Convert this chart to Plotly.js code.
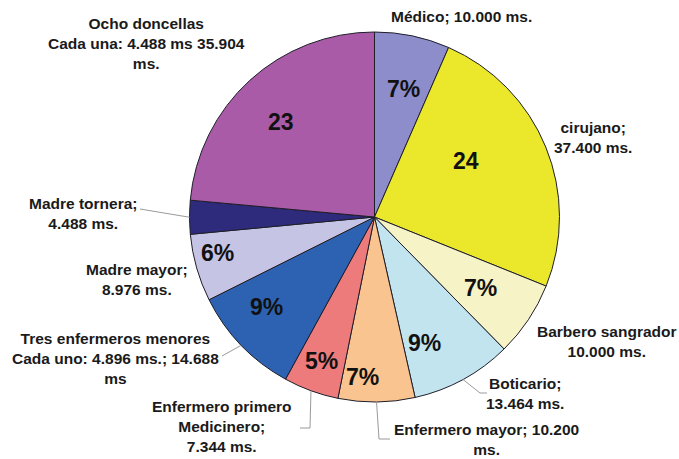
<!DOCTYPE html>
<html>
<head>
<meta charset="utf-8">
<script src="https://cdn.plot.ly/plotly-3.0.1.min.js"></script>
<style>html,body{margin:0;padding:0;background:#fff;}#chart{width:679px;height:459px;}</style>
</head>
<body>
<div id="chart"></div>
<script>
// ---- data ----
const labels = ['Médico', 'cirujano', 'Barbero sangrador', 'Boticario', 'Enfermero mayor',
  'Enfermero primero Medicinero', 'Tres enfermeros menores', 'Madre mayor', 'Madre tornera', 'Ocho doncellas'];
const values = [10.000, 37.400, 10.000, 13.464, 10.200, 7.344, 14.688, 8.976, 4.488, 35.904];
const sliceText = ['7%', '24', '7%', '9%', '7%', '5%', '9%', '6%', '', '23'];
const outsideLabels = [
  'Médico; 10.000 ms.',
  'cirujano;<br>37.400 ms.',
  'Barbero sangrador<br>10.000 ms.',
  'Boticario;<br>13.464 ms.',
  'Enfermero mayor; 10.200<br>ms.',
  'Enfermero primero<br>Medicinero;<br>7.344 ms.',
  'Tres enfermeros menores<br>Cada uno: 4.896 ms.; 14.688<br>ms',
  'Madre mayor;<br>8.976 ms.',
  'Madre tornera;<br>4.488 ms.',
  'Ocho doncellas<br>Cada una: 4.488 ms 35.904<br>ms.'
];
const colors = ['#8e8dcc', '#ebe82c', '#f6f3c6', '#c2e4ee', '#f9c48f', '#ee7b7c', '#2d62b3', '#c6c4e4', '#2e2b7c', '#aa5ba8'];

// ---- layout (pixel positions) ----
const W = 679, H = 459;
const CX = 374.5, CY = 217, R = 185;
const labelPos = [[461,16],[593,137],[607,341],[525,393],[486,439],[222,426],[115,358],[137,279],[83,213],[146,43]];
const innerR = [0.71, 0.58, 0.69, 0.73, 0.87, 0.83, 0.76, 0.87, 0, 0.72];
const innerDA = [1, -9, 0, 7, 5, 0, 4, 3, 0, -2];
const leaderPts = [null, null, null, [[480,393],[487,393]], [[379,439],[390,439]], [[310,428],[300,428]],
  [[222,356]], null, [[140,209]], null];

const px = x => x / W;
const py = y => 1 - y / H;

const total = values.reduce((a, b) => a + b, 0);
let cum = 0;
const mids = values.map(v => { const m = (cum + v / 2) / total * 360; cum += v; return m; });

const annotations = [];
const shapes = [];
const lblFont = {family: 'Liberation Sans, Arial, sans-serif', size: 15.5, color: '#1a1a1a', weight: 'bold'};
const inFont = {family: 'Liberation Sans, Arial, sans-serif', size: 23, color: '#111', weight: 'bold'};

labels.forEach((l, i) => {
  annotations.push({
    xref: 'paper', yref: 'paper', x: px(labelPos[i][0]), y: py(labelPos[i][1]),
    xanchor: 'center', yanchor: 'middle', showarrow: false, align: 'center',
    text: '<b>' + outsideLabels[i].split('<br>').join('</b><br><b>') + '</b>', font: lblFont
  });
  if (sliceText[i]) {
    const a = (mids[i] + innerDA[i]) * Math.PI / 180;
    const r = R * innerR[i];
    annotations.push({
      xref: 'paper', yref: 'paper', x: px(CX + r * Math.sin(a)), y: py(CY - r * Math.cos(a)),
      xanchor: 'center', yanchor: 'middle', showarrow: false,
      text: '<b>' + sliceText[i] + '</b>', font: inFont
    });
  }
  if (leaderPts[i]) {
    const a = mids[i] * Math.PI / 180;
    const sx = CX + R * Math.sin(a), sy = CY - R * Math.cos(a);
    let path = 'M ' + px(sx) + ' ' + py(sy);
    leaderPts[i].forEach(p => { path += ' L ' + px(p[0]) + ' ' + py(p[1]); });
    shapes.push({type: 'path', xref: 'paper', yref: 'paper', path: path,
      line: {color: '#9a9a9a', width: 1}});
  }
});

const trace = {
  type: 'pie', labels: labels, values: values, sort: false, direction: 'clockwise', rotation: 0,
  marker: {colors: colors, line: {color: '#1e1e2a', width: 1}},
  textinfo: 'none', hoverinfo: 'label+value', showlegend: false,
  domain: {x: [(CX - R) / W, (CX + R) / W], y: [(H - CY - R) / H, (H - CY + R) / H]}
};

Plotly.newPlot('chart', [trace], {
  width: W, height: H, margin: {l: 0, r: 0, t: 0, b: 0},
  paper_bgcolor: '#fff', plot_bgcolor: '#fff', showlegend: false,
  annotations: annotations, shapes: shapes
}, {displayModeBar: false, staticPlot: true});
</script>
</body>
</html>
